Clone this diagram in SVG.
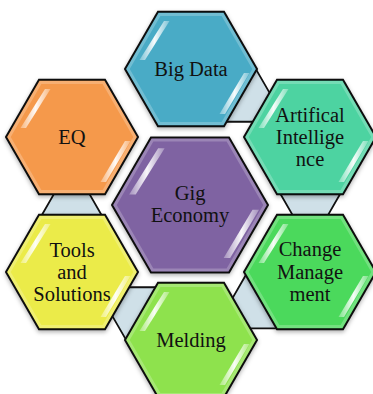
<svg xmlns="http://www.w3.org/2000/svg" xmlns:xlink="http://www.w3.org/1999/xlink" width="373" height="394" viewBox="0 0 373 394">
<style>
.hex{stroke:#111;stroke-width:2;stroke-linejoin:miter}
.rim{fill:none;stroke:#fff;stroke-opacity:0.22;stroke-width:3}
.con{fill:#cfe0e8;stroke:#111;stroke-width:1.8;stroke-linejoin:miter}
.lbl{font-family:"Liberation Serif","Times New Roman","DejaVu Serif",serif;font-size:20.5px;fill:#111;text-anchor:middle}
.shine{fill:url(#shineGrad)}
</style>
<defs>
<filter id="sh" x="-20%" y="-20%" width="140%" height="140%">
<feDropShadow dx="0" dy="2" stdDeviation="2" flood-color="#000" flood-opacity="0.3"/>
</filter>
<linearGradient id="shineGrad" x1="0" y1="0" x2="1" y2="0">
<stop offset="0" stop-color="#fff" stop-opacity="0.3"/>
<stop offset="0.5" stop-color="#fff" stop-opacity="0.95"/>
<stop offset="1" stop-color="#fff" stop-opacity="0.3"/>
</linearGradient>
<polygon id="hexO" points="-66,0 -33,-57.16 33,-57.16 66,0 33,57.16 -33,57.16"/>
<polygon id="hexRim" points="-63,0 -31.5,-54.5 31.5,-54.5 63,0 31.5,54.5 -31.5,54.5"/>
<polygon id="hexC" points="-31,0 -15.5,-26.85 15.5,-26.85 31,0 15.5,26.85 -15.5,26.85"/>
<g id="shineO">
<polygon class="shine" points="-27,-48 -21.5,-48 -46,-9 -51.5,-9"/>
<polygon class="shine" points="53,4 58.5,4 34,45 28.5,45"/>
</g>
</defs>

<g id="connectors">
<use href="#hexC" class="con" x="239.8" y="94.9"/>
<use href="#hexC" class="con" x="310.3" y="192"/>
<use href="#hexC" class="con" x="261.5" y="301.6"/>
<use href="#hexC" class="con" x="142.2" y="314.1"/>
<use href="#hexC" class="con" x="71.7" y="217"/>
</g>

<g id="big-data" transform="translate(191,69)">
<use href="#hexO" class="hex" fill="#4aabc6" filter="url(#sh)"/>
<use href="#hexRim" class="rim"/>
<use href="#shineO"/>
<text class="lbl" x="0" y="6.5">Big Data</text>
</g>

<g id="artificial-intelligence" transform="translate(310,137)">
<use href="#hexO" class="hex" fill="#4dd3a1" filter="url(#sh)"/>
<use href="#hexRim" class="rim"/>
<use href="#shineO"/>
<text class="lbl" x="0" y="-15.5">Artifical</text>
<text class="lbl" x="0" y="6.5">Intellige</text>
<text class="lbl" x="0" y="28.5">nce</text>
</g>

<g id="change-management" transform="translate(310,272)">
<use href="#hexO" class="hex" fill="#4cd95b" filter="url(#sh)"/>
<use href="#hexRim" class="rim"/>
<use href="#shineO"/>
<text class="lbl" x="0" y="-16">Change</text>
<text class="lbl" x="0" y="6.5">Manage</text>
<text class="lbl" x="0" y="28.5">ment</text>
</g>

<g id="melding" transform="translate(191,340)">
<use href="#hexO" class="hex" fill="#8ee24d" filter="url(#sh)"/>
<use href="#hexRim" class="rim"/>
<use href="#shineO"/>
<text class="lbl" x="0" y="6.5">Melding</text>
</g>

<g id="tools-and-solutions" transform="translate(72,272)">
<use href="#hexO" class="hex" fill="#ebeb4a" filter="url(#sh)"/>
<use href="#hexRim" class="rim"/>
<use href="#shineO"/>
<text class="lbl" x="0" y="-15.5">Tools</text>
<text class="lbl" x="0" y="6.5">and</text>
<text class="lbl" x="0" y="28.5">Solutions</text>
</g>

<g id="eq" transform="translate(72,137)">
<use href="#hexO" class="hex" fill="#f5994b" filter="url(#sh)"/>
<use href="#hexRim" class="rim"/>
<use href="#shineO"/>
<text class="lbl" x="0" y="7">EQ</text>
</g>

<g id="gig-economy" transform="translate(190,205)">
<polygon class="hex" fill="#7f63a2" filter="url(#sh)" points="-78,0 -39,-67.5 39,-67.5 78,0 39,67.5 -39,67.5"/>
<polygon class="rim" points="-75,0 -37.5,-64.9 37.5,-64.9 75,0 37.5,64.9 -37.5,64.9"/>
<g transform="scale(1.18)">
<use href="#shineO"/>
</g>
<text class="lbl" x="0" y="-5.5">Gig</text>
<text class="lbl" x="0" y="16.5">Economy</text>
</g>
</svg>
